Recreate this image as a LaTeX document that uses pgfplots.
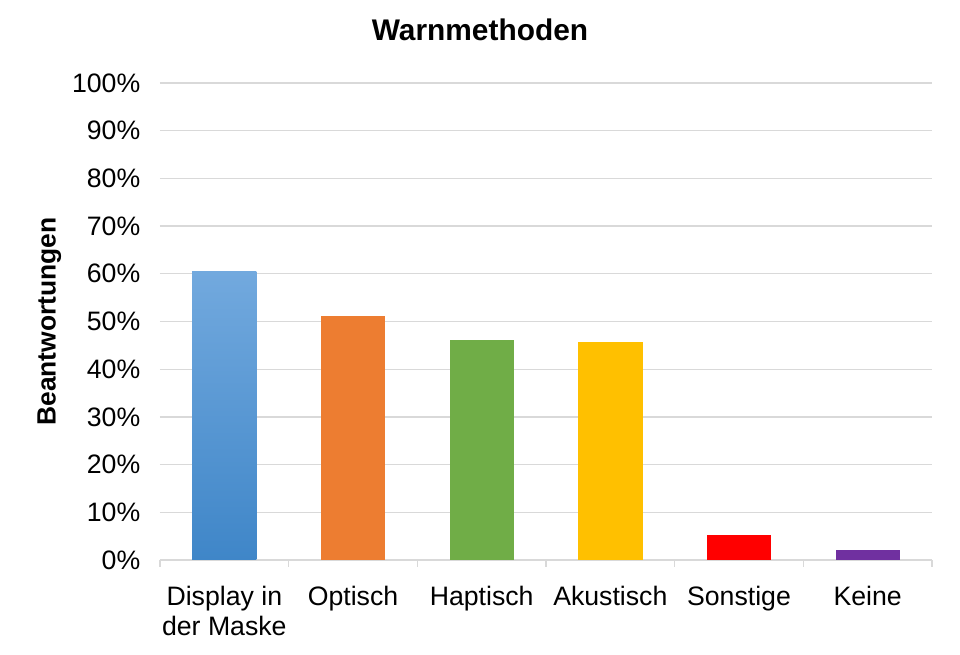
\documentclass[border=0pt]{standalone}
\usepackage{pgfplots}
\pgfplotsset{compat=1.18}
\usepackage{fontspec}
\setmainfont{Liberation Sans}
\definecolor{gridc}{HTML}{D9D9D9}
\definecolor{blueT}{HTML}{72A9DE}
\definecolor{blueB}{HTML}{3F86C8}
\definecolor{orangec}{HTML}{ED7D31}
\definecolor{greenc}{HTML}{70AD47}
\definecolor{yellowc}{HTML}{FFC000}
\definecolor{redc}{HTML}{FF0000}
\definecolor{purplec}{HTML}{7030A0}
\begin{document}
\begin{tikzpicture}
\path[use as bounding box] (-120pt,-71.25pt) rectangle (600pt,420pt);
\begin{axis}[
  at={(0,0)}, anchor=south west,
  scale only axis, width=579pt, height=357.75pt,
  xmin=-0.5, xmax=5.5, ymin=0, ymax=100,
  axis x line*=bottom, axis y line*=left,
  x axis line style={draw=gridc, line width=1pt},
  y axis line style={draw=none},
  ymajorgrids, grid style={draw=gridc, line width=1pt},
  ytick={0,10,...,100},
  yticklabel={\pgfmathprintnumber{\tick}\%},
  major y tick style={draw=none},
  xtick={0,1,2,3,4,5},
  xticklabels={{Display in\\der Maske},Optisch,Haptisch,Akustisch,Sonstige,Keine},
  major x tick style={draw=none},
  minor xtick={-0.5,0.5,1.5,2.5,3.5,4.5,5.5},
  minor x tick style={draw=gridc, line width=1pt},
  minor tick length=5pt, tick align=outside,
  /pgf/number format/assume math mode=true,
  tick label style={font=\fontsize{20}{22.5}\selectfont, text=black},
  xticklabel style={align=center, yshift=-12pt},
  yticklabel style={xshift=-7pt},
  title={Warnmethoden},
  title style={at={(axis description cs:0.4145,1)}, anchor=center, yshift=33.75pt, font=\bfseries\fontsize{22.4}{26}\selectfont},
  ylabel={Beantwortungen},
  ylabel style={at={(axis description cs:-0.1435,0.5)}, anchor=center, font=\bfseries\fontsize{19.8}{23}\selectfont},
  bar width=0.5,
]
\addplot[ybar, bar shift=0pt, draw=none, top color=blueT, bottom color=blueB] coordinates {(0,60.4)};
\addplot[ybar, bar shift=0pt, draw=none, fill=orangec] coordinates {(1,51.2)};
\addplot[ybar, bar shift=0pt, draw=none, fill=greenc] coordinates {(2,46.1)};
\addplot[ybar, bar shift=0pt, draw=none, fill=yellowc] coordinates {(3,45.6)};
\addplot[ybar, bar shift=0pt, draw=none, fill=redc] coordinates {(4,5.2)};
\addplot[ybar, bar shift=0pt, draw=none, fill=purplec] coordinates {(5,2.0)};
\end{axis}
\end{tikzpicture}
\end{document}
